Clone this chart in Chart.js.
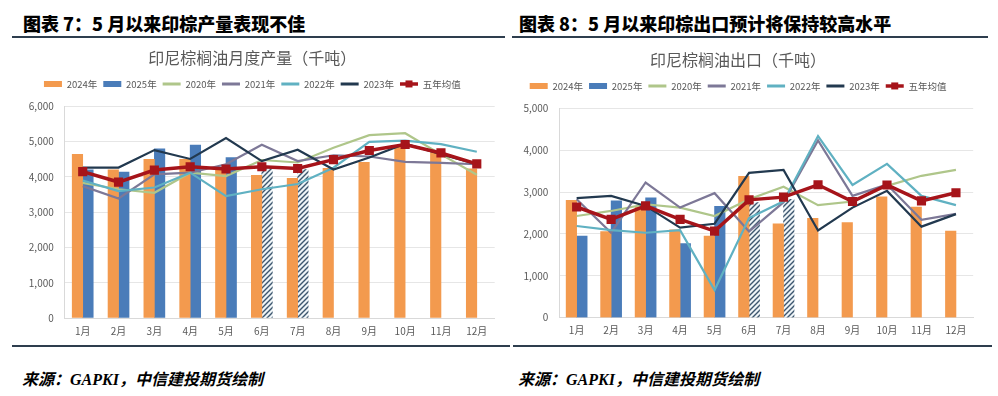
<!DOCTYPE html>
<html>
<head>
<meta charset="utf-8">
<script src="https://cdn.jsdelivr.net/npm/chart.js@4/dist/chart.umd.min.js"></script>
<style>
  body { margin: 0; width: 998px; height: 396px; background: #fff; position: relative; overflow: hidden; font-family: 'Noto Sans CJK SC', sans-serif; }
  .hd { position: absolute; top: 13px; line-height: 20px; font-size: 18px; font-weight: 900; color: #000; white-space: nowrap; }
  .rule { position: absolute; height: 2px; background: #2e3e4e; }
  .src { position: absolute; top: 366px; line-height: 20px; font: italic bold 16px 'Liberation Serif', 'Noto Sans CJK SC', serif; color: #000; white-space: nowrap; }
  canvas { position: absolute; }
</style>
</head>
<body>
<div class="hd" style="left:23px">图表 7：5 月以来印棕产量表现不佳</div>
<div class="hd" style="left:519px">图表 8：5 月以来印棕出口预计将保持较高水平</div>
<div class="rule" style="left:12px;width:493px;top:36px"></div>
<div class="rule" style="left:512px;width:476px;top:36px"></div>
<canvas id="prod" width="510" height="305" style="left:10px;top:40px"></canvas>
<canvas id="exp" width="492" height="303" style="left:503px;top:42px"></canvas>
<div class="rule" style="left:12px;width:498px;top:345px"></div>
<div class="rule" style="left:513px;width:479px;top:345px"></div>
<div class="src" style="left:22px">来源：GAPKI，中信建投期货绘制</div>
<div class="src" style="left:518px">来源：GAPKI，中信建投期货绘制</div>

<script>
// categories
const months = ['1月', '2月', '3月', '4月', '5月', '6月', '7月', '8月', '9月', '10月', '11月', '12月'];
const seriesNames = ['2024年', '2025年', '2020年', '2021年', '2022年', '2023年', '五年均值'];
const forecastFrom = 5; // 2025 values from 6月 on are forecasts (hatched bars)

// 印尼棕榈油月度产量（千吨）
const prod2024 = [4640, 4200, 4500, 4500, 4280, 4045, 3960, 4245, 4415, 4880, 4690, 4230];
const prod2025 = [4200, 4140, 4800, 4900, 4550, 4240, 4210];
const prod2020 = [3830, 3650, 3550, 4120, 4025, 4480, 4410, 4830, 5185, 5240, 4640, 4060];
const prod2021 = [3740, 3390, 4075, 4120, 4360, 4910, 4450, 4615, 4580, 4425, 4400, 4360];
const prod2022 = [3900, 3600, 3700, 4120, 3455, 3650, 3800, 4260, 4995, 5030, 4930, 4715];
const prod2023 = [4265, 4265, 4760, 4510, 5100, 4450, 4770, 4210, 4550, 4940, 4645, 4360];
const prodAvg  = [4150, 3855, 4195, 4290, 4225, 4290, 4240, 4490, 4750, 4920, 4680, 4370];
const prodTicks = [0, 1000, 2000, 3000, 4000, 5000, 6000];

// 印尼棕榈油出口（千吨）
const exp2024 = [2805, 2060, 2650, 2100, 1950, 3375, 2245, 2375, 2270, 2890, 2645, 2070];
const exp2025 = [1950, 2790, 2865, 1770, 2660, 2750, 2830];
const exp2020 = [2430, 2550, 2710, 2630, 2430, 2830, 3130, 2690, 2775, 3150, 3390, 3530];
const exp2021 = [2830, 2030, 3230, 2630, 2975, 2060, 2760, 4235, 2910, 3180, 2340, 2480];
const exp2022 = [2190, 2090, 2030, 2090, 660, 2380, 2780, 4340, 3170, 3675, 2910, 2690];
const exp2023 = [2855, 2910, 2670, 2150, 2245, 3460, 3530, 2085, 2630, 3030, 2175, 2475];
const expAvg  = [2645, 2350, 2670, 2350, 2070, 2815, 2880, 3175, 2775, 3170, 2790, 2985];
const expTicks = [0, 1000, 2000, 3000, 4000, 5000];

const colors = ['#F39A4E', '#4A7CB9', '#AFC68A', '#7D7897', '#60B1C2', '#22394F', '#A6141A'];
const textGrey = '#595959';

Chart.defaults.font.family = "'Noto Sans CJK SC', sans-serif";
Chart.defaults.color = textGrey;

function hatch() {
  const c = document.createElement('canvas');
  c.width = 5; c.height = 5;
  const g = c.getContext('2d');
  g.fillStyle = '#eef4f7';
  g.fillRect(0, 0, 5, 5);
  g.strokeStyle = '#3c566e';
  g.lineWidth = 1.4;
  g.beginPath();
  g.moveTo(0, 5); g.lineTo(5, 0);
  g.moveTo(-1, 1); g.lineTo(1, -1);
  g.moveTo(4, 6); g.lineTo(6, 4);
  g.stroke();
  return g.createPattern(c, 'repeat');
}
const hatchFill = hatch();

// square marker on the 五年均值 legend line
const legendMarker = {
  id: 'legendMarker',
  afterDraw(chart) {
    const lg = chart.legend;
    if (!lg || !lg.legendItems) return;
    const ctx = chart.ctx;
    lg.legendItems.forEach((it, i) => {
      if (it.text !== '五年均值') return;
      const hb = lg.legendHitBoxes[i];
      const cx = hb.left + 9, cy = hb.top + hb.height / 2;
      ctx.save();
      ctx.fillStyle = colors[6];
      ctx.fillRect(cx - 3.5, cy - 3.5, 7, 7);
      ctx.restore();
    });
  }
};

function build(id, title, bars24, bars25, lines, ticks, yWidth, rightPad, xHeight) {
  const barFill = bars25.map((v, i) => i >= forecastFrom ? hatchFill : colors[1]);
  const datasets = [
    { type: 'bar', label: seriesNames[0], data: bars24, backgroundColor: colors[0], order: 10 },
    { type: 'bar', label: seriesNames[1], data: bars25, backgroundColor: barFill, order: 10 }
  ];
  lines.forEach((vals, k) => {
    const avg = k === 4;
    datasets.push({
      type: 'line', label: seriesNames[k + 2], data: vals,
      borderColor: colors[k + 2], backgroundColor: colors[k + 2],
      borderWidth: avg ? 3.5 : 2.2, tension: 0,
      pointRadius: avg ? 4 : 0, pointStyle: 'rect',
      order: 5 - k
    });
  });

  return new Chart(document.getElementById(id), {
    data: { labels: months, datasets },
    plugins: [legendMarker],
    options: {
      responsive: false,
      animation: false,
      devicePixelRatio: 1,
      layout: { padding: { right: rightPad } },
      datasets: { bar: { barThickness: 10.5 } },
      plugins: {
        tooltip: { enabled: false },
        title: {
          display: true, text: title, color: textGrey,
          font: { size: 16, weight: 'normal' },
          padding: { top: 8, bottom: 6 }
        },
        subtitle: { display: true, text: '', weight: 500, font: { size: 1 }, padding: { top: 6.5, bottom: 0 } },
        legend: {
          display: true,
          labels: {
            usePointStyle: true, pointStyleWidth: 18, boxHeight: 6,
            padding: 6, color: textGrey, font: { size: 9.5 },
            generateLabels: chart => chart.data.datasets.map((ds, i) => ({
              text: ds.label, datasetIndex: i, hidden: false,
              fillStyle: colors[i], strokeStyle: colors[i],
              lineWidth: ds.type === 'bar' ? 0 : (i === 6 ? 3.5 : 3),
              pointStyle: ds.type === 'bar' ? 'rect' : 'line',
              fontColor: textGrey
            }))
          }
        }
      },
      scales: {
        x: {
          grid: { display: false, drawTicks: false },
          border: { display: true, color: '#d9d9d9' },
          ticks: { padding: 7, font: { size: 10 }, color: textGrey },
          afterFit: s => { s.height = xHeight; }
        },
        y: {
          min: ticks[0], max: ticks[ticks.length - 1],
          afterBuildTicks: s => { s.ticks = ticks.map(v => ({ value: v })); },
          grid: { color: '#e6e6e6', drawTicks: false },
          border: { display: true, color: '#d9d9d9' },
          ticks: { padding: 11, font: { size: 10 }, color: textGrey, callback: v => v.toLocaleString('en-US') },
          afterFit: s => { s.width = yWidth; }
        }
      }
    }
  });
}

build('prod', '印尼棕榈油月度产量（千吨）', prod2024, prod2025,
  [prod2020, prod2021, prod2022, prod2023, prodAvg], prodTicks, 54.8, 25.3, 27);
build('exp', '印尼棕榈油出口（千吨）', exp2024, exp2025,
  [exp2020, exp2021, exp2022, exp2023, expAvg], expTicks, 56.4, 21.8, 27.3);
</script>
</body>
</html>
